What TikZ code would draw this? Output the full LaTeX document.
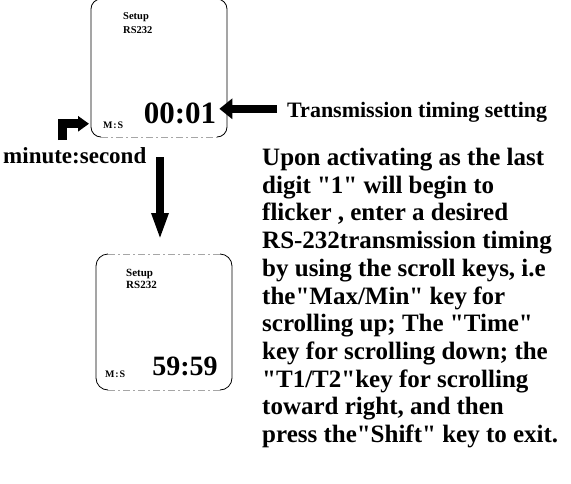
\documentclass[tikz,border=0pt]{standalone}
\usepackage{fontspec}
\setmainfont{Liberation Serif}[Ligatures=TeXOff]
\usetikzlibrary{arrows.meta}

\begin{document}
\begin{tikzpicture}[
  x=1pt,y=-1pt,
  frame/.style={line width=0.8pt},
  seam/.style={gray!70,line width=0.6pt,dash pattern=on 7pt off 3pt on 2pt off 3pt},
  lcd/.style={font=\bfseries,inner sep=0pt,anchor=base west},
  block/.style={line width=8.5pt,line join=miter,-{Triangle[length=13pt,width=20pt]}},
  note/.style={font=\bfseries\fontsize{22}{26}\selectfont,inner sep=0pt}
]
  \useasboundingbox (0,0) rectangle (571,483);

  % Upper screen: its top edge runs off the page.
  \draw[frame] (101,-1) arc[start angle=270,end angle=180,radius=10]
    -- (91,127) arc[start angle=180,end angle=90,radius=10];
  \draw[frame] (217,-1) arc[start angle=270,end angle=360,radius=10]
    -- (227,127) arc[start angle=0,end angle=90,radius=10];
  \draw[seam] (101,137) -- (217,137);

  \node[lcd,font=\bfseries\fontsize{10.5}{12}\selectfont] (title1) at (123,19) {Setup};
  \node[lcd,font=\bfseries\fontsize{10.5}{12}\selectfont] (port1) at (123,33) {RS232};
  \node[lcd,font=\bfseries\fontsize{10}{11}\selectfont] (ms1) at (103,128) {M\kern0.8pt:\kern0.8pt S};
  \node[lcd,anchor=base,font=\bfseries\fontsize{31}{34}\selectfont] (t1) at (180,123) {00:01};

  % Lower screen.
  \draw[frame] (108,254) arc[start angle=270,end angle=180,radius=12]
    -- (96,378) arc[start angle=180,end angle=90,radius=12];
  \draw[frame] (220,254) arc[start angle=270,end angle=360,radius=12]
    -- (232,378) arc[start angle=0,end angle=90,radius=12];
  \draw[seam] (108,254) -- (220,254);
  \draw[seam] (108,390) -- (220,390);

  \node[lcd,font=\bfseries\fontsize{11}{12}\selectfont] (title2) at (126,276) {Setup};
  \node[lcd,font=\bfseries\fontsize{11}{12}\selectfont] (port2) at (126,288) {RS232};
  \node[lcd,font=\bfseries\fontsize{10}{11}\selectfont] (ms2) at (105,377) {M\kern0.8pt:\kern0.8pt S};
  \node[lcd,anchor=base,font=\bfseries\fontsize{28}{31}\selectfont] (t2) at (185,375) {59:59};

  % Labels.
  \node[note,anchor=base west] (trans) at (287,117) {Transmission timing setting};
  \node[note,anchor=base west,font=\bfseries\fontsize{23}{26}\selectfont]
    (mins) at (3,163) {minute:second};
  \node[note,anchor=north west,align=left,font=\bfseries\fontsize{25}{27.7}\selectfont]
    (steps) at (262,148) {Upon activating as the last\\
      digit "1" will begin to\\
      flicker , enter a desired\\
      RS-232transmission timing\\
      by using the scroll keys, i.e\\
      the"Max/Min" key for\\
      scrolling up; The "Time"\\
      key for scrolling down; the\\
      "T1/T2"key for scrolling\\
      toward right, and then\\
      press the"Shift" key to exit.};

  % Arrows.
  \coordinate (hook) at (62.5,140);
  \coordinate (drop) at (160,157);
  \coordinate (scr2) at (160,254);
  \draw[block,shorten <=10pt,shorten >=3pt] ([yshift=3pt]trans.west) -- ([yshift=3pt]trans.west -| t1.east);
  \draw[block,line width=9pt,-{Triangle[length=11pt,width=15pt]},shorten >=14pt]
    (hook) |- ([yshift=1pt]ms1.west);
  \draw[block,line width=8pt,-{Triangle[length=27pt,width=15.5pt]},shorten >=14pt]
    (drop) -- (scr2);
\end{tikzpicture}
\end{document}
